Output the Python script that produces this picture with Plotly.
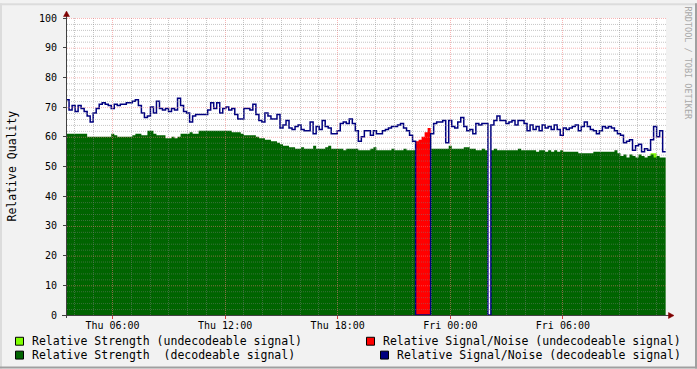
import math
import pandas as pd
import plotly.graph_objects as go

# ---------------- data ----------------
start_time = "2024-01-04 03:31:30"   # Thursday
step_seconds = 578

snr_decodeable = [
    72.5, 69, 70.5, 68.5, 70.5, 69.5, 68.5, 67, 65, 68, 69.5, 71, 71.5, 71, 70.5, 69.5, 71, 70.5, 71, 71,
    71.5, 71.5, 72, 72.5, 70.5, 68, 66.5, 67, 70, 68, 72, 69.5, 69,
    69.5, 68.5, 69.5, 69, 73, 70.5, 68.5, 68, 65, 67, 67.5, 67.5, 67.5, 67.5, 69, 71.5, 69.5, 71.5, 68, 69.5,
    70, 69, 69.5, 67.5, 66, 66, 69.5, 69.5, 69, 71, 67.5, 65.5, 65,
    68, 67, 66, 66, 67.5, 63, 64, 65.5, 63, 62.5, 63.5, 64, 62.5, 62, 62, 65, 61, 63.5, 62.5, 65.5,
    63.5, 63, 61, 61, 62, 64.5, 65, 64.5, 66, 64.5, 62, 58.5, 60,
    62, 62, 60.5, 62, 61, 61, 62, 62.5, 63, 63.5, 63.5, 64, 64.5, 63, 62, 60.5, 58.5, 0, 0, 0,
    0, 0, 61, 64.5, 65, 65, 65.5, 58, 65.5, 63.5, 63, 65, 66.5,
    63.5, 62, 62.5, 61, 64.5, 64, 64.5, 64.5, 0, 64, 65.5, 67, 65.5, 65.5, 64.5, 65, 65.5, 64, 65.5, 65.5,
    64.5, 62, 64, 62.5, 63.5, 62, 64, 63, 63.5, 62.5, 64, 62.5, 60.5,
    63, 62.5, 63, 63.5, 64, 62, 63.5, 65, 63.5, 62.5, 62, 61, 62, 63.5, 63, 63.5, 63, 62, 61, 60.5,
    58, 58.5, 59, 55.5, 57, 57.5, 55, 56, 55.5, 59, 63.5, 60, 62, 55,
]

strength_decodeable = [
    61, 61, 61, 61, 61, 61, 61, 60, 60, 60, 60, 60, 60, 60, 60, 61, 60.5, 60, 60, 60,
    60, 60, 60.5, 61, 61, 60.5, 60.5, 62, 62, 61, 60.5, 60.5, 60.5,
    59.5, 59.5, 60, 59.5, 60, 61, 61, 61, 61.5, 61, 61, 62, 62, 62, 62, 62, 62, 62, 62, 62,
    62, 62, 61.5, 61.5, 61.5, 61, 60.5, 60.5, 60.5, 60.5, 60, 59.5, 59.5,
    59, 59, 58.5, 58.5, 58, 57.5, 57, 57, 56.5, 56.5, 56, 56, 56.5, 56, 56, 56, 57, 56, 56, 56,
    56.5, 57, 56, 56, 56, 56, 55.5, 56, 56, 56, 56, 55.5, 55.5,
    55.5, 55.5, 56, 56.5, 55.5, 55.5, 55.5, 55.5, 55.5, 56, 55.5, 55.5, 55.5, 56, 55.5, 55.5, 55.5, 0, 0, 0,
    0, 0, 56, 56, 56, 56, 56, 56, 57, 56, 56, 56, 56,
    56.5, 56.5, 56, 56, 55.5, 55.5, 56, 55.5, 0, 55.5, 56, 55.5, 55.5, 55.5, 55.5, 55.5, 55.5, 55.5, 56, 55.5,
    55.5, 55.5, 55.5, 55.5, 55, 55.5, 55.5, 55, 55.5, 55, 55.5, 55, 55.5,
    55, 55, 55, 55, 55, 54.5, 54.5, 54.5, 54.5, 54.5, 55, 55, 55, 55, 55, 55, 55, 55.5, 54.5, 53.5,
    54, 53, 54, 53.5, 53, 54, 53.5, 53, 53.5, 54, 53, 53.5, 53, 53,
]

snr_undecodeable = [0] * 116 + [58.5, 59, 60, 61.5, 63] + [0] * 78
strength_undecodeable = [0] * 116 + [55, 55, 55, 55, 55] + [0] * 73 + [54.5, 54.5, 0, 0, 0]

y_tick_values = [0, 10, 20, 30, 40, 50, 60, 70, 80, 90, 100]

legend_labels = [
    "Relative Strength (undecodeable signal)",
    "Relative Signal/Noise (undecodeable signal)",
    "Relative Strength  (decodeable signal)",
    "Relative Signal/Noise (decodeable signal)",
]
series_colors = ["#7FFF00", "#FF0000", "#006400", "#000080"]

x_range = ["2024-01-04 03:34:30", "2024-01-05 11:29:36"]

# ---------------- figure ----------------
times = pd.date_range(start_time, periods=len(snr_decodeable) + 1, freq=f"{step_seconds}s")


def extend(v):
    return list(v) + [v[-1]]


FONT = "DejaVu Sans Mono"
fig = go.Figure()
for vals, col, name in [
    (strength_undecodeable, series_colors[0], legend_labels[0]),
    (snr_undecodeable, series_colors[1], legend_labels[1]),
    (strength_decodeable, series_colors[2], legend_labels[2]),
]:
    fig.add_trace(go.Scatter(x=times, y=extend(vals), mode="lines", name=name,
                             line=dict(shape="hv", width=0, color=col),
                             fill="tozeroy", fillcolor=col, showlegend=False,
                             hoverinfo="skip"))
fig.add_trace(go.Scatter(x=times, y=extend(snr_decodeable), mode="lines", name=legend_labels[3],
                         line=dict(shape="hv", width=1.5, color=series_colors[3]),
                         showlegend=False))

L, R, T, B = 67, 31, 15, 54
W, H = 697, 369
PW, PH = W - L - R, H - T - B


def px(x):
    return (x - L) / PW


def py(y):
    return (H - B - y) / PH


t0 = pd.Timestamp(x_range[0])
t1 = pd.Timestamp(x_range[1])

shapes = []
# grid on top of data (as rrdtool does), snapped to pixel centres
minor_col = "rgba(128,128,128,0.45)"
major_col = "rgba(240,120,120,0.55)"
for h in pd.date_range("2024-01-04 04:00", "2024-01-05 11:00", freq="1h"):
    major = h.hour % 6 == 0
    xp = L + (h - t0) / (t1 - t0) * PW
    xc = math.floor(xp) + 0.5
    shapes.append(dict(type="line", xref="paper", yref="paper", x0=px(xc), x1=px(xc),
                       y0=py(315), y1=py(15), layer="above",
                       line=dict(color=major_col if major else minor_col, width=1, dash="1px,1px")))
for v in range(2, 101, 2):
    major = v % 10 == 0
    yc = 315 - 3 * v + 0.5
    shapes.append(dict(type="line", xref="paper", yref="paper", x0=px(67), x1=px(667),
                       y0=py(yc), y1=py(yc), layer="above",
                       line=dict(color=major_col if major else minor_col, width=1, dash="1px,1px")))

# axes lines and arrows
axis_col = "#404040"
arrow_col = "#7F0000"
shapes.append(dict(type="line", xref="paper", yref="paper", x0=px(66.5), x1=px(66.5),
                   y0=py(318), y1=py(11), layer="above", line=dict(color=axis_col, width=1)))
shapes.append(dict(type="line", xref="paper", yref="paper", x0=px(62), x1=px(670),
                   y0=py(315.5), y1=py(315.5), layer="above", line=dict(color=axis_col, width=1)))
shapes.append(dict(type="path", xref="paper", yref="paper", layer="above",
                   path=f"M {px(66.5)},{py(8)} L {px(63.5)},{py(13.5)} L {px(69.5)},{py(13.5)} Z",
                   fillcolor=arrow_col, line=dict(color=arrow_col, width=0.5)))
shapes.append(dict(type="path", xref="paper", yref="paper", layer="above",
                   path=f"M {px(674)},{py(315.5)} L {px(668.5)},{py(312.5)} L {px(668.5)},{py(318.5)} Z",
                   fillcolor=arrow_col, line=dict(color=arrow_col, width=0.5)))

# image frame shading
for (x0, y0, x1, y1, c) in [(0, 0, W, 2, "#DCDCDC"), (0, 0, 2, H, "#DCDCDC"),
                            (W - 2, 0, W, H, "#A0A0A0"), (0, H - 2, W, H, "#A0A0A0")]:
    shapes.append(dict(type="rect", xref="paper", yref="paper", x0=px(x0), x1=px(x1),
                       y0=py(y0), y1=py(y1), fillcolor=c, line=dict(width=0), layer="below"))

# legend boxes
box_pos = [(15, 337), (366, 337), (15, 351), (380, 351)]
text_pos = [(30, 341.5), (381, 341.5), (30, 355.5), (395, 355.5)]
for (bx, by), col in zip(box_pos, series_colors):
    shapes.append(dict(type="rect", xref="paper", yref="paper", x0=px(bx + 0.5), x1=px(bx + 8.5),
                       y0=py(by + 0.5), y1=py(by + 8.5), fillcolor=col,
                       line=dict(color="#000000", width=1)))

annotations = []
for (tx, ty), label in zip(text_pos, legend_labels):
    annotations.append(dict(xref="paper", yref="paper", x=px(tx), y=py(ty), text=label,
                            showarrow=False, xanchor="left", yanchor="middle",
                            font=dict(family=FONT, size=11.5, color="#000000")))
annotations.append(dict(xref="paper", yref="paper", x=px(11), y=py(165), text="Relative Quality",
                        showarrow=False, textangle=-90, xanchor="center", yanchor="middle",
                        font=dict(family=FONT, size=11.5, color="#000000")))
annotations.append(dict(xref="paper", yref="paper", x=px(688), y=py(60), text="RRDTOOL / TOBI OETIKER",
                        showarrow=False, textangle=90, xanchor="center", yanchor="middle",
                        font=dict(family=FONT, size=8.5, color="#A8A8A8")))

fig.update_layout(
    width=W, height=H,
    margin=dict(l=L, r=R, t=T, b=B),
    paper_bgcolor="#F2F2F2", plot_bgcolor="#FFFFFF",
    font=dict(family=FONT, size=10, color="#000000"),
    shapes=shapes, annotations=annotations,
    showlegend=False,
    xaxis=dict(type="date", range=x_range,
               showgrid=False, zeroline=False, showline=False,
               tick0="2024-01-04 00:00", dtick=6 * 3600 * 1000, tickformat="%a %H:%M",
               ticks="outside", ticklen=3, tickcolor="#D04040", ticklabelstandoff=-2,
               tickfont=dict(family=FONT, size=10), fixedrange=True),
    yaxis=dict(range=[0, 100], tickvals=y_tick_values, showgrid=False, zeroline=False,
               showline=False, ticks="outside", ticklen=3, tickcolor=axis_col,
               ticklabelstandoff=4,
               tickfont=dict(family=FONT, size=10), fixedrange=True),
)

fig.write_html("out.html", config={"displayModeBar": False},
               post_script="document.body.style.margin='0';document.body.style.overflow='hidden';")
